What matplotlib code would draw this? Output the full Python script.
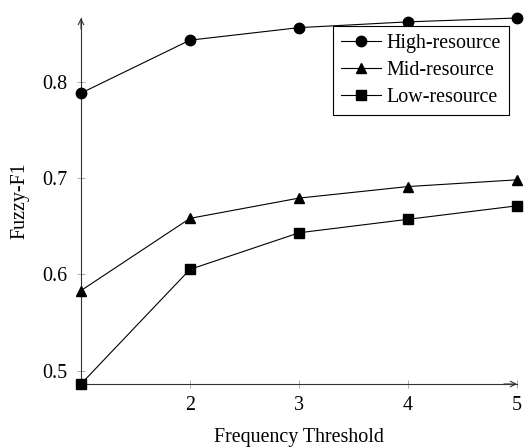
import matplotlib
matplotlib.use("Agg")
import matplotlib.pyplot as plt

thresholds = [1, 2, 3, 4, 5]
high = [0.788, 0.843, 0.856, 0.862, 0.866]
mid = [0.583, 0.658, 0.679, 0.691, 0.698]
low = [0.486, 0.605, 0.643, 0.657, 0.671]
xticks = [2, 3, 4, 5]
yticks = [0.5, 0.6, 0.7, 0.8]
ytick_labels = ["0.5", "0.6", "0.7", "0.8"]

plt.rcParams['font.family'] = ['Liberation Serif', 'DejaVu Serif']
fs = 14.4

fig = plt.figure(figsize=(5.26, 4.47), dpi=100)
ax = fig.add_axes([81/526, 1-384/447, (517-81)/526, (384-18)/447])

ax.plot(thresholds, high, color='black', lw=0.8, marker='o', ms=7.5, label='High-resource', clip_on=False, zorder=3)
ax.plot(thresholds, mid, color='black', lw=0.8, marker='^', ms=7, label='Mid-resource', clip_on=False, zorder=3)
ax.plot(thresholds, low, color='black', lw=0.8, marker='s', ms=7, label='Low-resource', clip_on=False, zorder=3)

ax.set_xlim(1, 5)
ax.set_ylim(min(low), max(high))
ax.set_xticks(xticks)
ax.set_xticklabels([str(t) for t in xticks], fontsize=fs)
ax.set_yticks(yticks)
ax.set_yticklabels(ytick_labels, fontsize=fs)
ax.tick_params(direction='inout', length=6, width=0.6, color='#a0a0a0')
ax.tick_params(axis='y', pad=6.5)
ax.tick_params(axis='x', pad=6)

for s in ['top', 'right']:
    ax.spines[s].set_visible(False)
ax.spines['left'].set_linewidth(0.8)
ax.spines['bottom'].set_linewidth(0.8)
ax.spines['left'].set_color('#333333')
ax.spines['bottom'].set_color('#333333')

# arrow heads
ax.annotate('', xy=(1.0, 0), xytext=(0.97, 0), xycoords='axes fraction',
            arrowprops=dict(arrowstyle='->', lw=0.8, color='#333333', shrinkA=0, shrinkB=0))
ax.annotate('', xy=(0, 1.0), xytext=(0, 0.97), xycoords='axes fraction',
            arrowprops=dict(arrowstyle='->', lw=0.8, color='#333333', shrinkA=0, shrinkB=0))

ax.set_xlabel('Frequency Threshold', fontsize=fs, labelpad=9)
ax.set_ylabel('Fuzzy-F1', fontsize=fs, labelpad=9.5)

leg = ax.legend(loc='upper right', bbox_to_anchor=(0.982, 0.978), borderaxespad=0,
                fontsize=fs, fancybox=False, edgecolor='black', framealpha=1,
                handlelength=2.0, handletextpad=0.3, labelspacing=0.4, borderpad=0.4)
leg.get_frame().set_linewidth(0.8)

fig.savefig('out.png', dpi=100)
